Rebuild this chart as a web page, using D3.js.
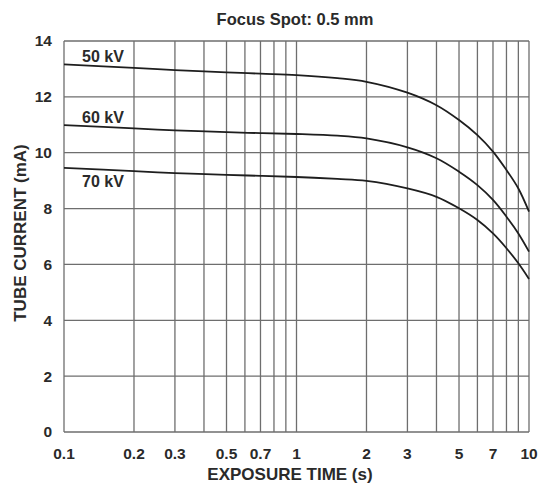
<!DOCTYPE html>
<html>
<head>
<meta charset="utf-8">
<script src="https://cdn.jsdelivr.net/npm/d3@7"></script>
<style>
  body { margin: 0; background: #fff; }
  text { font-family: "Liberation Sans", Arial, sans-serif; font-weight: bold; fill: #2a2a2a; }
</style>
</head>
<body>
<div id="chart"></div>
<script>
// exposure time (s) sample points
var times = [0.1, 0.2, 0.3, 0.5, 0.7, 1, 1.5, 2, 3, 4, 5, 6, 7, 8, 9, 10];
var kv50 = [13.16, 13.04, 12.96, 12.88, 12.83, 12.78, 12.67, 12.54, 12.15, 11.7, 11.17, 10.63, 10.04, 9.38, 8.72, 7.89];
var kv60 = [10.99, 10.87, 10.80, 10.74, 10.70, 10.67, 10.61, 10.51, 10.19, 9.8, 9.32, 8.84, 8.31, 7.71, 7.11, 6.46];
var kv70 = [9.46, 9.34, 9.27, 9.21, 9.17, 9.13, 9.06, 8.99, 8.72, 8.42, 8.01, 7.59, 7.11, 6.58, 6.04, 5.48];
var seriesNames = ['50 kV', '60 kV', '70 kV'];
var xGrid = [0.1, 0.2, 0.3, 0.4, 0.5, 0.6, 0.7, 0.8, 0.9, 1, 2, 3, 4, 5, 6, 7, 8, 9, 10];
var xTickLabels = [0.1, 0.2, 0.3, 0.5, 0.7, 1, 2, 3, 5, 7, 10];
var yTicks = [0, 2, 4, 6, 8, 10, 12, 14];

var width = 539, height = 488;
var margin = {top: 41, right: 10, bottom: 56, left: 64};

var svg = d3.select('#chart').append('svg')
    .attr('width', width)
    .attr('height', height);

var x = d3.scaleLog()
    .domain([0.1, 10])
    .range([margin.left, width - margin.right]);
var y = d3.scaleLinear()
    .domain([0, 14])
    .range([height - margin.bottom, margin.top]);

var grid = svg.append('g').attr('class', 'grid');
grid.selectAll('.vline').data(xGrid).enter().append('line')
    .attr('class', 'vline')
    .attr('x1', function(d) { return x(d); })
    .attr('x2', function(d) { return x(d); })
    .attr('y1', y(0))
    .attr('y2', y(14))
    .attr('stroke', '#6e6e6e')
    .attr('stroke-width', 1.3);
grid.selectAll('.hline').data(yTicks).enter().append('line')
    .attr('class', 'hline')
    .attr('x1', x(0.1))
    .attr('x2', x(10))
    .attr('y1', function(d) { return y(d); })
    .attr('y2', function(d) { return y(d); })
    .attr('stroke', '#6e6e6e')
    .attr('stroke-width', 1.3);

// tick labels
svg.append('g').selectAll('text').data(yTicks).enter().append('text')
    .attr('x', margin.left - 12)
    .attr('y', function(d) { return y(d); })
    .attr('dy', '0.35em')
    .attr('text-anchor', 'end')
    .style('font-size', '15.5px')
    .text(function(d) { return d; });
svg.append('g').selectAll('text').data(xTickLabels).enter().append('text')
    .attr('x', function(d) { return x(d); })
    .attr('y', y(0) + 27)
    .attr('text-anchor', 'middle')
    .style('font-size', '15.5px')
    .text(function(d) { return d; });

// curves
var line = d3.line()
    .x(function(d) { return x(d[0]); })
    .y(function(d) { return y(d[1]); })
    .curve(d3.curveCatmullRom.alpha(0.5));
var series = [kv50, kv60, kv70];
svg.append('g').selectAll('path').data(series).enter().append('path')
    .attr('d', function(s) { return line(times.map(function(t, i) { return [t, s[i]]; })); })
    .attr('fill', 'none')
    .attr('stroke', '#1e1e1e')
    .attr('stroke-width', 1.8);

// curve labels: 50/60 above line, 70 below
var labelOffset = [-2.5, -2, 19];
svg.append('g').selectAll('text').data(series).enter().append('text')
    .attr('x', 82)
    .attr('y', function(s, i) { return y(s[0]) + labelOffset[i]; })
    .style('font-size', '16px')
    .text(function(s, i) { return seriesNames[i]; });

// titles
svg.append('text')
    .attr('x', 295)
    .attr('y', 25)
    .attr('text-anchor', 'middle')
    .style('font-size', '16.5px')
    .text('Focus Spot: 0.5 mm');
svg.append('text')
    .attr('x', 290)
    .attr('y', 480)
    .attr('text-anchor', 'middle')
    .style('font-size', '17px')
    .text('EXPOSURE TIME (s)');
svg.append('text')
    .attr('transform', 'translate(26,233) rotate(-90)')
    .attr('text-anchor', 'middle')
    .style('font-size', '17px')
    .text('TUBE CURRENT (mA)');
</script>
</body>
</html>
